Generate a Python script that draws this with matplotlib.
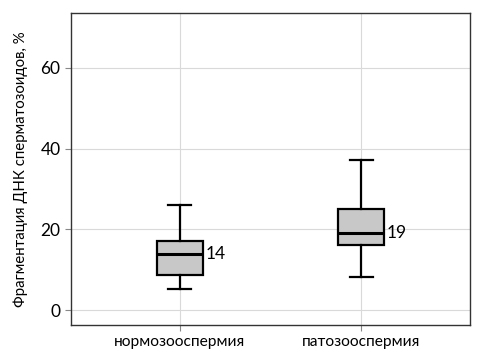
import matplotlib.pyplot as plt

groups = ['нормозооспермия', 'патозооспермия']
whislo = [5.2, 8.2]
q1 = [8.6, 16.1]
med = [14.0, 19.2]
q3 = [17.2, 25.1]
whishi = [26.0, 37.2]
labels = ['14', '19']

plt.rcParams['font.family'] = ['Lato', 'DejaVu Sans']

fig = plt.figure(figsize=(4.82, 3.58), dpi=100)
ax = fig.add_axes([71 / 482, 1 - 325 / 358, 399 / 482, 312 / 358])

stats = []
for i, g in enumerate(groups):
    stats.append({'label': g, 'whislo': whislo[i], 'q1': q1[i], 'med': med[i],
                  'q3': q3[i], 'whishi': whishi[i], 'fliers': []})

ax.bxp(stats, positions=[0, 1], widths=0.255, patch_artist=True, showfliers=False,
       boxprops=dict(facecolor='#c8c8c8', edgecolor='black', linewidth=1.6),
       medianprops=dict(color='black', linewidth=2.2),
       whiskerprops=dict(color='black', linewidth=1.6),
       capprops=dict(color='black', linewidth=1.6),
       capwidths=0.128, zorder=3)

for i, lab in enumerate(labels):
    ax.text(i + 0.14, med[i], lab, va='center', ha='left', fontsize=12.5)

ax.set_xlim(-0.6, 1.6)
ax.set_ylim(-3.7, 73.6)
ax.set_yticks([0, 20, 40, 60])
ax.set_xticks([0, 1])
ax.set_xticklabels(groups)
ax.grid(True, color='#d9d9d9', linewidth=0.8, zorder=0)
ax.set_axisbelow(True)
for s in ax.spines.values():
    s.set_color('#333333')
    s.set_linewidth(1.0)
ax.tick_params(axis='both', colors='#888888', labelcolor='black', length=4)
ax.tick_params(axis='y', labelsize=12.5)
ax.tick_params(axis='x', labelsize=11.2)
ax.set_ylabel('Фрагментация ДНК сперматозоидов, %', fontsize=10.8, labelpad=9)

fig.savefig('out.png', dpi=100)
